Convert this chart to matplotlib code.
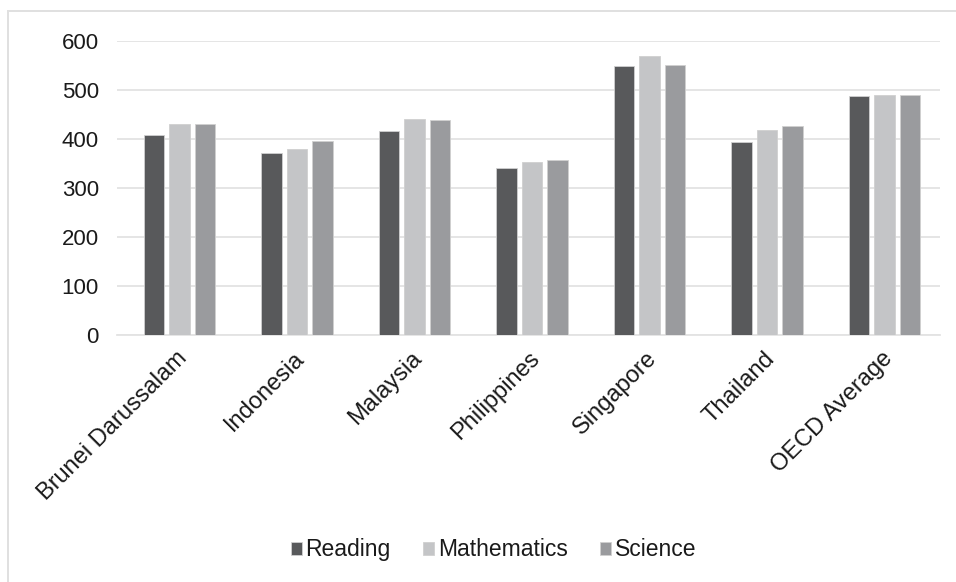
import matplotlib.pyplot as plt
import numpy as np
from matplotlib.lines import Line2D

plt.rcParams['font.family'] = ['Liberation Sans', 'DejaVu Sans']

# PISA 2018 mean scores
countries = ["Brunei Darussalam", "Indonesia", "Malaysia", "Philippines",
             "Singapore", "Thailand", "OECD Average"]
reading = [408, 371, 415, 340, 549, 393, 487]
mathematics = [430, 379, 440, 353, 569, 419, 489]
science = [431, 396, 438, 357, 551, 426, 489]

series = [("Reading", reading, "#58595b"),
          ("Mathematics", mathematics, "#c4c5c7"),
          ("Science", science, "#9a9b9e")]

fig = plt.figure(figsize=(9.56, 5.82), dpi=100)
ax = fig.add_axes([0.1224, 0.4244, 0.8606, 0.5056])

x = np.arange(len(countries))
step = 0.217
width = 0.175
for i, (name, vals, col) in enumerate(series):
    ax.bar(x + (i - 1) * step + 0.03, vals, width, color=col, label=name,
           edgecolor="#d0d0d0", linewidth=0.6, zorder=3)

ax.set_xlim(-0.5, len(countries) - 0.5)
ax.set_ylim(0, 600)
ax.set_yticks(range(0, 601, 100))
ax.grid(axis="y", color="#e3e3e3", linewidth=1.3, zorder=0)
for s in ["top", "right", "left"]:
    ax.spines[s].set_visible(False)
ax.spines["bottom"].set_color("#e3e3e3")
ax.spines["bottom"].set_linewidth(1.3)
ax.tick_params(axis="both", length=0, colors="#1a1a1a")
ax.tick_params(axis="y", pad=13, labelsize=16)
ax.tick_params(axis="x", pad=9, labelsize=17)
ax.set_xticks(x)
ax.set_xticklabels(countries, rotation=45, ha="right", rotation_mode="anchor")

leg = fig.legend(loc="center", bbox_to_anchor=(0.516, 0.055), ncol=3,
                 frameon=False, fontsize=16.5, handlelength=0.5, handleheight=0.5,
                 handletextpad=0.15, columnspacing=1.4)
for t in leg.get_texts():
    t.set_color("#1a1a1a")

# chart frame, only the top and left edges fall inside the image
fig.add_artist(Line2D([0.0085, 0.0085], [0, 0.981], color="#e0e0e0", linewidth=1.4))
fig.add_artist(Line2D([0.0085, 1], [0.981, 0.981], color="#e0e0e0", linewidth=1.4))

fig.savefig("out.png", dpi=100, facecolor="white")
